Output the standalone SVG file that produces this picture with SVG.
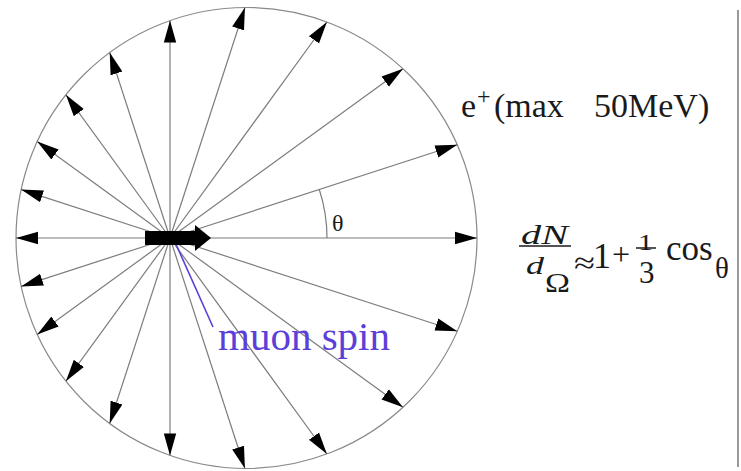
<svg xmlns="http://www.w3.org/2000/svg" width="741" height="471" viewBox="0 0 741 471">
<style>
.ray{stroke:#7d7d7d;stroke-width:1.2;fill:none;marker-end:url(#ah)}
.tx{font-family:"Liberation Serif","Times New Roman",serif;fill:#1a1a1a}
.it{font-style:italic}
</style>
<defs>
<marker id="ah" markerUnits="userSpaceOnUse" markerWidth="23" markerHeight="14" refX="22" refY="7" orient="auto">
<path d="M0,0.8 L22,7 L0,13.2 z" fill="#000"/>
</marker>
</defs>
<rect width="741" height="471" fill="#fff"/>
<g id="circle"><circle cx="246.5" cy="238" r="230.5" fill="none" stroke="#8a8a8a" stroke-width="1.2"/></g>
<g id="connectors">
<line class="ray" x1="170" y1="238" x2="477" y2="238"/>
<line class="ray" x1="170" y1="238" x2="457.3" y2="144.7"/>
<line class="ray" x1="170" y1="238" x2="403" y2="68.7"/>
<line class="ray" x1="170" y1="238" x2="326.9" y2="22"/>
<line class="ray" x1="170" y1="238" x2="244.9" y2="7.5"/>
<line class="ray" x1="170" y1="238" x2="170" y2="20.6"/>
<line class="ray" x1="170" y1="238" x2="109.7" y2="52.5"/>
<line class="ray" x1="170" y1="238" x2="65.9" y2="94.8"/>
<line class="ray" x1="170" y1="238" x2="37.2" y2="141.5"/>
<line class="ray" x1="170" y1="238" x2="21.1" y2="189.6"/>
<line class="ray" x1="170" y1="238" x2="16" y2="238"/>
<line class="ray" x1="170" y1="238" x2="457.3" y2="331.3"/>
<line class="ray" x1="170" y1="238" x2="403" y2="407.3"/>
<line class="ray" x1="170" y1="238" x2="326.9" y2="454"/>
<line class="ray" x1="170" y1="238" x2="244.9" y2="468.5"/>
<line class="ray" x1="170" y1="238" x2="170" y2="455.4"/>
<line class="ray" x1="170" y1="238" x2="109.7" y2="423.5"/>
<line class="ray" x1="170" y1="238" x2="65.9" y2="381.2"/>
<line class="ray" x1="170" y1="238" x2="37.2" y2="334.5"/>
<line class="ray" x1="170" y1="238" x2="21.1" y2="286.4"/>
<path d="M327,238 A157,157 0 0 0 319.3,189.5" fill="none" stroke="#7d7d7d" stroke-width="1.2"/>
<line x1="175" y1="242" x2="213" y2="327" stroke="#5b3fd8" stroke-width="1.6"/>
</g>
<g id="spin">
<rect x="145" y="231" width="52" height="14" fill="#000"/>
<polygon points="195,225 211,238 195,251" fill="#000"/>
</g>
<g id="theta"><text class="tx" x="332" y="231" font-size="24">θ</text></g>
<g id="muon-label"><text class="tx" x="218" y="350" font-size="41" style="fill:#5b3fd8">muon spin</text></g>
<g id="positron-label">
<text class="tx" x="461" y="117" font-size="34">e</text>
<text class="tx" x="477" y="104" font-size="24">+</text>
<text class="tx" x="494" y="117" font-size="34">(max</text>
<text class="tx" x="594" y="117" font-size="34">50MeV)</text>
</g>
<g id="formula">
<text class="tx it" x="521" y="244" font-size="27" textLength="47" lengthAdjust="spacingAndGlyphs">dN</text>
<line x1="519" y1="246" x2="571" y2="246" stroke="#1a1a1a" stroke-width="1.5"/>
<text class="tx it" x="526" y="274" font-size="26" textLength="18" lengthAdjust="spacingAndGlyphs">d</text>
<text class="tx" x="545" y="292" font-size="28" textLength="25" lengthAdjust="spacingAndGlyphs">Ω</text>
<text class="tx" x="574" y="273" font-size="30" textLength="21" lengthAdjust="spacingAndGlyphs">≈</text>
<text class="tx" x="593" y="268" font-size="36">1</text>
<text class="tx" x="612" y="265" font-size="32">+</text>
<text class="tx" x="638" y="250" font-size="24" textLength="15" lengthAdjust="spacingAndGlyphs">1</text>
<line x1="636" y1="248" x2="656" y2="248" stroke="#1a1a1a" stroke-width="1.5"/>
<text class="tx" x="639" y="283" font-size="31">3</text>
<text class="tx" x="666" y="260" font-size="35">cos</text>
<text class="tx" x="715" y="278" font-size="29">θ</text>
</g>
<g id="border"><line x1="738" y1="10" x2="738" y2="467" stroke="#999" stroke-width="2"/></g>
</svg>
